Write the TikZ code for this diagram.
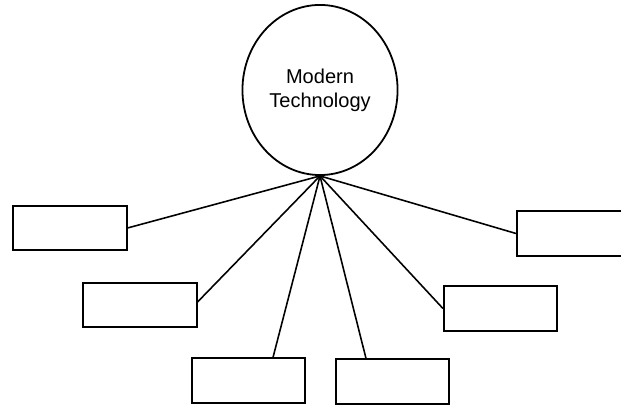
\documentclass[tikz,border=0pt]{standalone}
\usepackage{fontspec}
\setmainfont{Liberation Sans}
\usetikzlibrary{shapes.geometric}

\begin{document}
\begin{tikzpicture}[
    blank/.style = {draw, line width=1.9pt, minimum width=3.77cm, minimum height=1.47cm, inner sep=0pt},
    spoke/.style = {line width=1.5pt}]
    \useasboundingbox (0, 0) rectangle (20.7, 13.533);
    \node [ellipse, draw, line width=1.7pt, minimum width=5.17cm, minimum height=5.67cm,
           inner sep=0pt, align=center, font=\fontsize{19}{23}\selectfont]
          (tech) at (10.667, 10.533) {Modern\\Technology};
    \coordinate (hub) at (tech.south);

    \foreach \n/\x/\y in {a/2.333/5.933, b/4.667/3.367, c/8.283/0.85,
                          d/13.083/0.817, e/16.683/3.25, f/19.117/5.75} {
      \node [blank] (box\n) at (\x, \y) {};
    }

    \draw [spoke] (hub) -- (boxa.east);
    \draw [spoke] (hub) -- ([yshift=0.1cm]boxb.east);
    \draw [spoke] (hub) -- ([xshift=0.817cm]boxc.north);
    \draw [spoke] (hub) -- ([xshift=-0.883cm]boxd.north);
    \draw [spoke] (hub) -- (boxe.west);
    \draw [spoke] (hub) -- (boxf.west);
\end{tikzpicture}
\end{document}
